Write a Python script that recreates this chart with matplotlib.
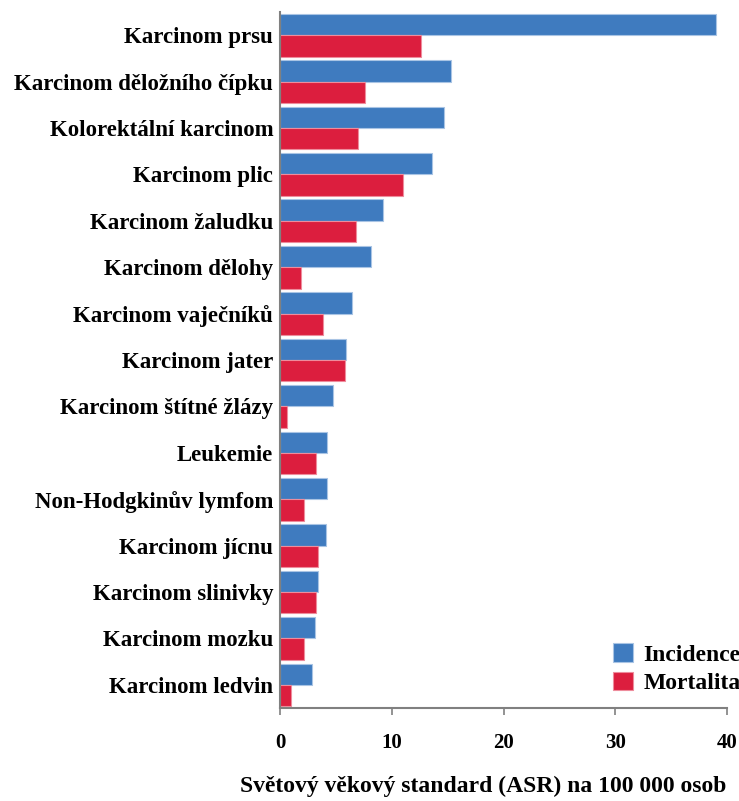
import numpy as np
import matplotlib
matplotlib.use('Agg')
import matplotlib.pyplot as plt

categories = [
    'Karcinom prsu',
    'Karcinom děložního čípku',
    'Kolorektální karcinom',
    'Karcinom plic',
    'Karcinom žaludku',
    'Karcinom dělohy',
    'Karcinom vaječníků',
    'Karcinom jater',
    'Karcinom štítné žlázy',
    'Leukemie',
    'Non-Hodgkinův lymfom',
    'Karcinom jícnu',
    'Karcinom slinivky',
    'Karcinom mozku',
    'Karcinom ledvin',
]
incidence = [39.0, 15.3, 14.7, 13.6, 9.2, 8.1, 6.4, 5.9, 4.7, 4.2, 4.2, 4.1, 3.4, 3.1, 2.9]
mortalita = [12.6, 7.6, 7.0, 11.0, 6.8, 1.9, 3.8, 5.8, 0.6, 3.2, 2.1, 3.4, 3.2, 2.1, 1.0]
xticks = [0, 10, 20, 30, 40]

plt.rcParams['font.family'] = ['Liberation Serif', 'DejaVu Serif']
plt.rcParams['font.weight'] = 'bold'

fig = plt.figure(figsize=(7.39, 8.01), dpi=100)
ax = fig.add_axes([0.379, 0.116, 0.605, 0.869])

y = np.arange(len(categories))
h = 0.46
ax.barh(y - h / 2, incidence, height=h, color='#3F7BBF', edgecolor='#A9C4E4',
        linewidth=0.8, label='Incidence')
ax.barh(y + h / 2, mortalita, height=h, color='#DC1E3E', edgecolor='#EE8C9C',
        linewidth=0.8, label='Mortalita')

ax.set_ylim(len(categories) - 0.5, -0.5)
ax.set_xlim(0, 40)
ax.set_yticks(y)
ax.set_yticklabels(categories, fontsize=16.5, fontweight='bold')
ax.set_xticks(xticks)
ax.set_xticklabels([str(t) for t in xticks], fontsize=15, fontweight='bold')
ax.tick_params(axis='y', length=0, pad=5)
ax.tick_params(axis='x', length=5, width=1.2, color='#808080', pad=13)

for s in ['top', 'right']:
    ax.spines[s].set_visible(False)
for s in ['left', 'bottom']:
    ax.spines[s].set_color('#808080')
    ax.spines[s].set_linewidth(1.5)

ax.set_xlabel('Světový věkový standard (ASR) na 100 000 osob', fontsize=17,
              fontweight='bold')
ax.xaxis.set_label_coords(0.455, -0.098)

leg = ax.legend(loc='lower right', bbox_to_anchor=(1.03, 0.02), frameon=False,
                prop={'size': 17, 'weight': 'bold'}, handlelength=0.85,
                handleheight=0.85, handletextpad=0.45, labelspacing=0.25,
                borderpad=0, borderaxespad=0)

fig.savefig('out.png', dpi=100)
